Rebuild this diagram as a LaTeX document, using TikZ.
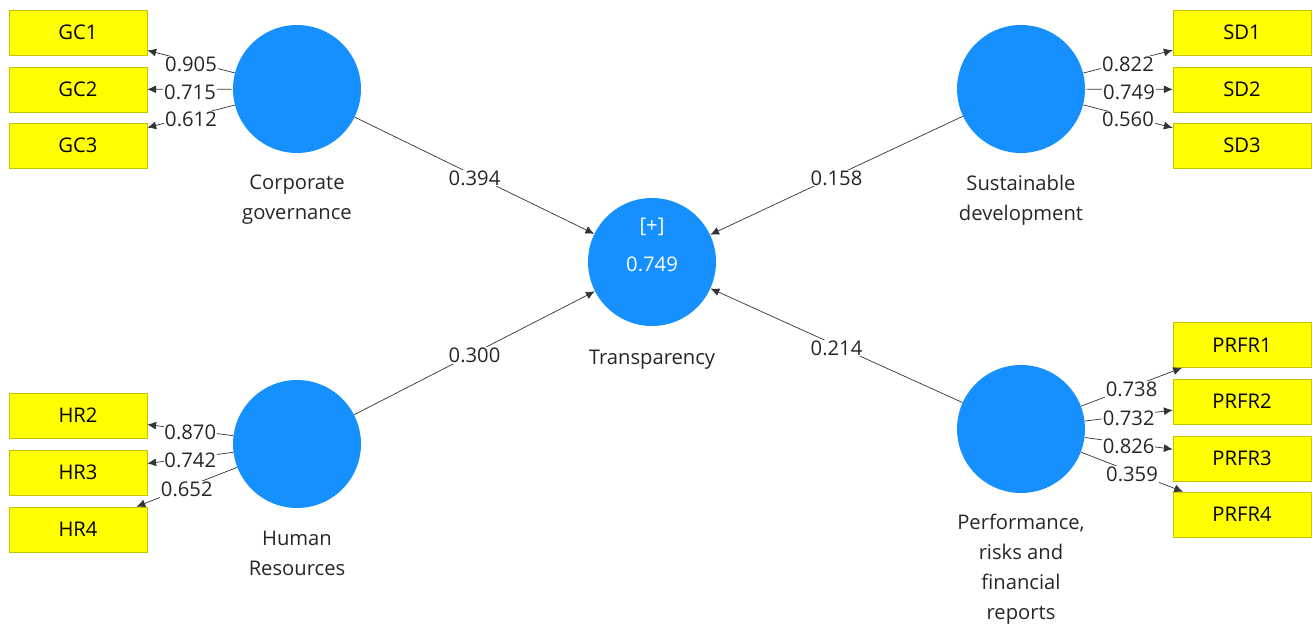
\documentclass[tikz,border=0pt]{standalone}
\usepackage{fontspec}
\setmainfont{Open Sans}
\usetikzlibrary{calc,arrows.meta}

\definecolor{lvblue}{RGB}{22,144,255}
\definecolor{mvyellow}{RGB}{255,255,0}
\definecolor{mvborder}{RGB}{196,196,0}
\tikzset{
  latent/.style={circle,fill=lvblue,minimum size=2.56cm,inner sep=0pt},
  manifest/.style={rectangle,draw=mvborder,fill=mvyellow,minimum width=2.76cm,
    minimum height=0.9cm,inner sep=0pt,font=\fontsize{11.5}{14}\selectfont},
  lvname/.style={align=center,text=black!85,font=\fontsize{11.5}{17}\selectfont},
  coef/.style={fill=white,inner sep=0.5pt,yshift=-1.5pt,text=black!85,
    font=\fontsize{11.5}{14}\selectfont},
  link/.style={draw=black!80,-{Latex[length=5pt,width=4.5pt]}},
}

\begin{document}
\begin{tikzpicture}[x=0.02cm,y=-0.02cm]
          \useasboundingbox (0,0) rectangle (1312,628);
          %\draw[very thin,lightgray] (0,0) grid[step=100] (1312,628);
          % latent variables
          \node[latent] (gc) at (297,89) {};
          \node[latent] (sd) at (1021,89) {};
          \node[latent] (tr) at (652,262) {};
          \node[latent] (hr) at (297,444) {};
          \node[latent] (prfr) at (1021,429) {};
          \node[text=white,font=\fontsize{11.5}{14}\selectfont] (trplus) at (652,227) {[+]};
          \node[text=white,font=\fontsize{11.5}{14}\selectfont] (trrsq) at (652,264) {0.749};
          \node[lvname] (gcname) at (297,200) {Corporate\\governance};
          \node[lvname] (sdname) at (1021,200) {Sustainable\\development};
          \node[lvname] (trname) at (652,360) {Transparency};
          \node[lvname] (hrname) at (297,553) {Human\\Resources};
          \node[lvname] (prfrname) at (1021,569) {Performance,\\risks and\\financial\\reports};
          % indicators
          \node[manifest] (gc1) at (78,32.5) {GC1};
          \node[manifest] (gc2) at (78,89.5) {GC2};
          \node[manifest] (gc3) at (78,145.5) {GC3};
          \node[manifest] (sd1) at (1242,32.5) {SD1};
          \node[manifest] (sd2) at (1242,89.5) {SD2};
          \node[manifest] (sd3) at (1242,145.5) {SD3};
          \node[manifest] (hr2) at (78,415.5) {HR2};
          \node[manifest] (hr3) at (78,472.5) {HR3};
          \node[manifest] (hr4) at (78,529.5) {HR4};
          \node[manifest] (prfr1) at (1242,345) {PRFR1};
          \node[manifest] (prfr2) at (1242,401.5) {PRFR2};
          \node[manifest] (prfr3) at (1242,458.5) {PRFR3};
          \node[manifest] (prfr4) at (1242,514.5) {PRFR4};
          % outer loadings
          \draw[link] (gc) -- node[coef]{0.905} (gc1);
          \draw[link] (gc) -- node[coef]{0.715} (gc2);
          \draw[link] (gc) -- node[coef]{0.612} (gc3);
          \draw[link] (sd) -- node[coef]{0.822} (sd1);
          \draw[link] (sd) -- node[coef]{0.749} (sd2);
          \draw[link] (sd) -- node[coef]{0.560} (sd3);
          \draw[link] (hr) -- node[coef]{0.870} (hr2);
          \draw[link] (hr) -- node[coef]{0.742} (hr3);
          \draw[link] (hr) -- node[coef]{0.652} (hr4);
          \draw[link] (prfr) -- node[coef]{0.738} (prfr1);
          \draw[link] (prfr) -- node[coef]{0.732} (prfr2);
          \draw[link] (prfr) -- node[coef]{0.826} (prfr3);
          \draw[link] (prfr) -- node[coef]{0.359} (prfr4);
          % path coefficients
          \draw[link] (gc) -- node[coef]{0.394} (tr);
          \draw[link] (sd) -- node[coef]{0.158} (tr);
          \draw[link] (hr) -- node[coef]{0.300} (tr);
          \draw[link] (prfr) -- node[coef]{0.214} (tr);
        \end{tikzpicture}
\end{document}
